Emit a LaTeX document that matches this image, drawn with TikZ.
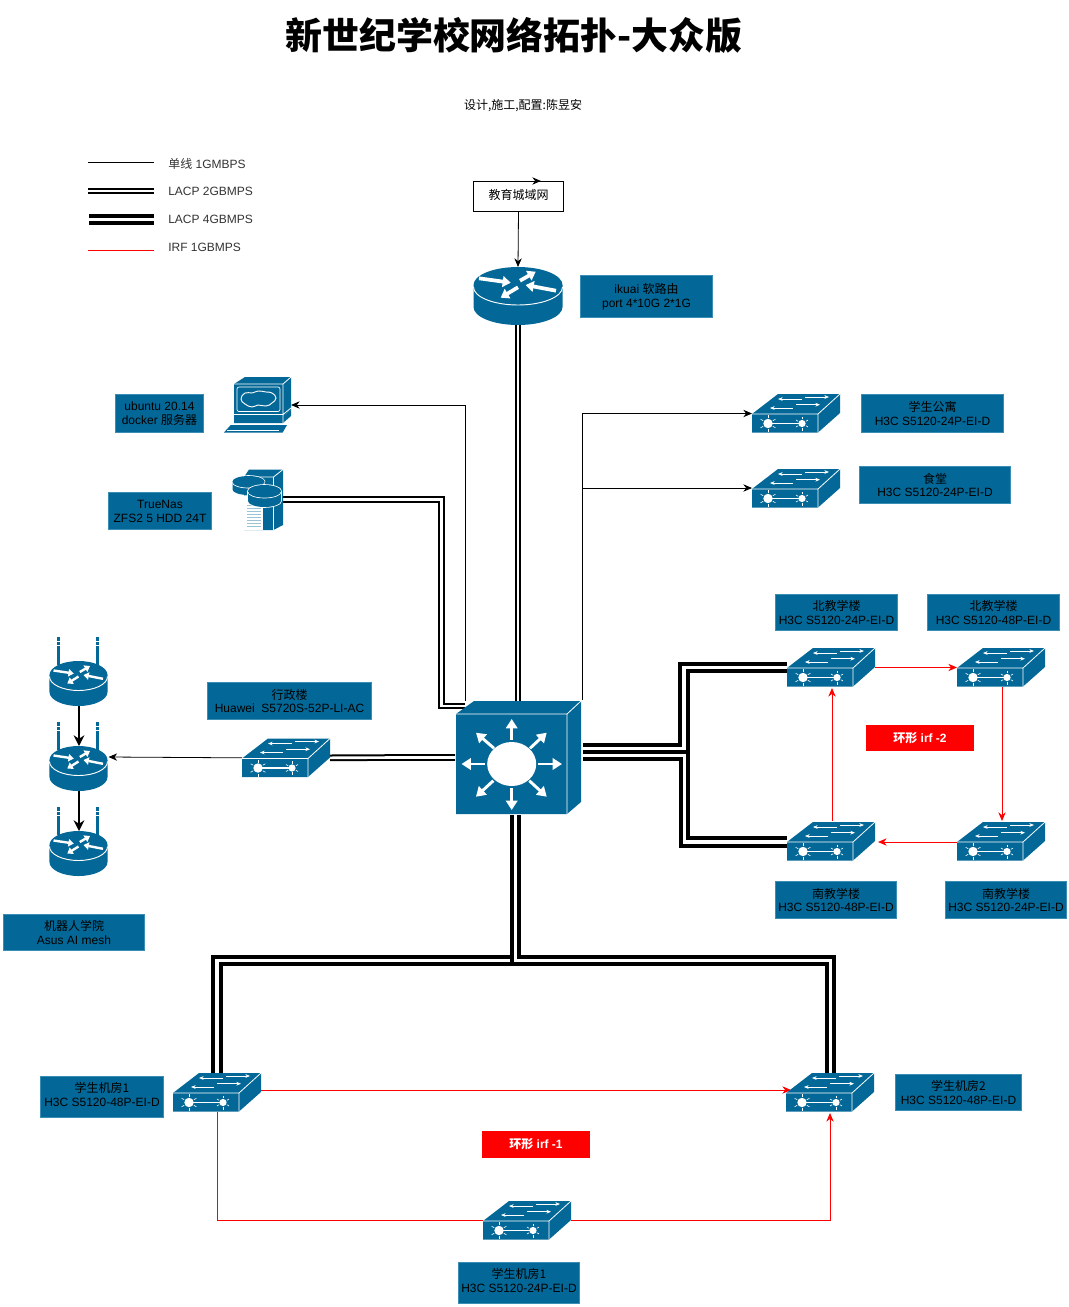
\documentclass[tikz,border=0pt]{standalone}
\usepackage{fontspec}
\setmainfont{Liberation Sans}
\newfontfamily\cj{Noto Sans CJK SC}
\usetikzlibrary{arrows.meta}
\definecolor{tblue}{HTML}{036897}
\definecolor{tedge}{HTML}{3A8DB5}
\definecolor{tred}{HTML}{FF0000}
\tikzset{
  hit/.style={inner sep=0pt,outer sep=0pt,anchor=north west},
  lbl/.style={fill=tblue,draw=tedge,line width=.5pt,text=black,align=center,inner sep=0pt,font=\fontsize{9}{10.4}\selectfont},
  redlbl/.style={fill=tred,draw=tred,line width=.5pt,text=white,align=center,inner sep=0pt,font=\fontsize{9}{10}\selectfont\bfseries},
  plainlbl/.style={align=left,anchor=west,inner sep=0pt,text=black!80,font=\fontsize{9}{10}\selectfont},
  thin1/.style={black,line width=.6pt},
  lacpa/.style={black,line width=1.5pt,double=white,double distance=2pt},
  lacpb/.style={black,line width=3pt,double=white,double distance=2.3pt},
  irf/.style={tred,line width=.6pt},
  tip/.style={-{Stealth[length=6.5pt,width=5.5pt]}},
  body/.style={fill=tblue,draw=none},
  wl/.style={white,line width=.6pt},
  sa/.style={white,line width=.55pt,-{Stealth[length=3.5pt,width=2.8pt]}},
  ra/.style={white,line width=2.8pt,-{Triangle[length=6pt,width=8pt]}},
  ca/.style={white,line width=2.2pt,-{Triangle[length=7pt,width=8.5pt]}},
}
\newcommand\lab[7][lbl]{\pgfmathsetmacro\cxx{(#3+#5)/2}\pgfmathsetmacro\cyy{(#4+#6)/2}\pgfmathsetmacro\wdd{(#5-#3-.7)*.75}\pgfmathsetmacro\htt{(#6-#4-.7)*.75}\node[#1,minimum width=\wdd pt,minimum height=\htt pt] (#2) at (\cxx,\cyy) {#7};}
\newcommand\swnode[3]{\node[hit,minimum width=66pt,minimum height=29pt] (#1) at (#2,#3) {};}
\newcommand\swicon[2]{\begin{scope}[shift={(#1,#2)}]
 \fill[body] (0,20)--(26,0)--(88,0)--(88,19)--(66,38.5)--(0,38.5)--cycle;
 \draw[wl] (0,20)--(66,20)--(88,0) (66,20)--(66,38.5);
 \draw[sa] (50,5)--(26,5); \draw[sa] (53,3)--(77,3);
 \draw[sa] (41,14)--(18,14); \draw[sa] (44,10.7)--(68,10.7);
 \fill[white] (16,29.5) circle[radius=4.7];
 \fill[white] (50,29.5) circle[radius=3.6];
 \draw[white,line width=.9pt] (16,29.5)--(50,29.5);
 \foreach \a in {30,90,150,210,270,330}{
   \draw[white,line width=.45pt] (16,29.5)+(\a:5.5)--+(\a:8.5);
   \draw[white,line width=.45pt] (50,29.5)+(\a:4.4)--+(\a:7);}
\end{scope}}
\newcommand\rtrbody{%
 \fill[body] (-44.5,18)--(-44.5,40) arc[start angle=180,end angle=0,x radius=44.5,y radius=18]--(44.5,18) arc[start angle=0,end angle=-180,x radius=44.5,y radius=18]--cycle;
 \draw[white,line width=.7pt] (-44.5,20) arc[start angle=180,end angle=0,x radius=44.5,y radius=18];
}
\begin{document}
\begin{tikzpicture}[x=.75pt,y=-.75pt]
\useasboundingbox (0,0) rectangle (1069,1307);
% texts
\node[inner sep=0pt,font=\fontsize{27.7}{30}\selectfont] (title) at (514,35.5) {\cj\bfseries 新世纪学校网络拓扑-大众版};
\node[inner sep=0pt,font=\fontsize{9}{10}\selectfont] (sub) at (523,105.5) {\cj 设计,施工,配置:陈昱安};
% legend
\coordinate (l1a) at (88,162.5); \coordinate (l1b) at (154,162.5);
\coordinate (l2a) at (88,191); \coordinate (l2b) at (154,191);
\coordinate (l3a) at (89,219.5); \coordinate (l3b) at (154,219.5);
\coordinate (l4a) at (88,250); \coordinate (l4b) at (154,250);
\draw[thin1] (l1a)--(l1b);
\draw[lacpa] (l2a)--(l2b);
\draw[lacpb] (l3a)--(l3b);
\draw[irf] (l4a)--(l4b);
\node[plainlbl] (t1) at (168,163.5) {{\cj 单线} 1GMBPS};
\node[plainlbl] (t2) at (168,191.5) {LACP 2GBMPS};
\node[plainlbl] (t3) at (168,219.5) {LACP 4GBMPS};
\node[plainlbl] (t4) at (168,247.5) {IRF 1GBMPS};
% labels
\node[draw=black,line width=.75pt,fill=white,minimum width=68pt,minimum height=22.5pt,inner sep=0pt,font=\fontsize{9}{10}\selectfont] (wan) at (518.5,196) {\raisebox{2pt}{\cj 教育城域网}};
\lab{Lnet}{580}{275}{713}{318}{ikuai {\cj 软路由}\\port 4*10G 2*1G}
\lab{Lsrv}{115}{394}{204}{433}{ubuntu 20.14\\docker {\cj 服务器}}
\lab{Lnas}{108}{492}{212}{530}{TrueNas\\ZFS2 5 HDD 24T}
\lab{Ldorm}{861}{394}{1004}{433}{{\cj 学生公寓}\\H3C S5120-24P-EI-D}
\lab{Lcant}{859}{466}{1011}{504}{{\cj 食堂}\\H3C S5120-24P-EI-D}
\lab{Lna}{775}{594}{898}{631}{{\cj 北教学楼}\\H3C S5120-24P-EI-D}
\lab{Lnb}{927}{594}{1060}{631}{{\cj 北教学楼}\\H3C S5120-48P-EI-D}
\lab{Lsa}{775}{881}{897}{919}{{\cj 南教学楼}\\H3C S5120-48P-EI-D}
\lab{Lsb}{945}{881}{1067}{919}{{\cj 南教学楼}\\H3C S5120-24P-EI-D}
\lab{Loff}{207}{682}{372}{720}{{\cj 行政楼}\\Huawei\ \ S5720S-52P-LI-AC}
\lab{Lrob}{3}{914}{145}{951}{{\cj 机器人学院}\\Asus AI mesh}
\lab[lbl,text depth=4.5pt]{Lla}{40}{1076}{164}{1118}{{\cj 学生机房1}\\H3C S5120-48P-EI-D}
\lab{Llb}{895}{1074}{1022}{1111}{{\cj 学生机房2}\\H3C S5120-48P-EI-D}
\lab[lbl,text depth=4.5pt]{Llc}{458}{1262}{580}{1304}{{\cj 学生机房1}\\H3C S5120-24P-EI-D}
\lab[redlbl]{Ri2}{866}{725}{974}{751}{{\cj\bfseries 环形} irf -2}
\lab[redlbl]{Ri1}{482}{1131}{590}{1158}{{\cj\bfseries 环形} irf -1}
% anchor nodes of the devices
\node[hit,minimum width=66.75pt,minimum height=43.5pt] (net) at (473.5,267) {};
\node[hit,minimum width=94.5pt,minimum height=84.75pt] (core) at (455,701) {};
\node[hit,minimum width=50.25pt,minimum height=42pt] (srv) at (224,377) {};
\node[hit,minimum width=37.5pt,minimum height=45.75pt] (nas) at (233,469) {};
\swnode{dorm}{752}{394}
\swnode{cant}{752}{469}
\swnode{na}{787}{648}
\swnode{nb}{957}{648}
\swnode{sa}{787}{822}
\swnode{sb}{957}{822}
\swnode{off}{242}{738.5}
\swnode{la}{173}{1073}
\swnode{lb}{786}{1073}
\swnode{lc}{483}{1201}
\node[hit,minimum width=44.25pt,minimum height=34pt] (ra) at (49.5,661) {};
\node[hit,minimum width=44.25pt,minimum height=34pt] (rb) at (49.5,746) {};
\node[hit,minimum width=44.25pt,minimum height=34pt] (rc) at (49.5,831) {};
% connectors
\draw[black,line width=.75pt,tip] (518.5,181)--(541,181);
\draw[thin1,tip] (wan.south)--(net.north);
\draw[lacpa] (net.south)--(core.north);
\draw[thin1,tip] (core.north -| 465,0)--(465,405)--(srv.east |- 0,405);
\draw[lacpa] (nas.east |- 0,499.5)--(441.5,499.5)--(441.5,706)--(465,706);
\draw[thin1,tip] (582,700)--(582,413.5)--(dorm.west |- 0,413.5);
\draw[thin1,tip] (582,488)--(cant.west |- 0,488);
\draw[lacpa] (off.east)--(400,757.5)--(core.west);
\draw[thin1,tip] (off.west)--(rb.east |- 0,757);
\draw[black,line width=1.5pt,-{Stealth[length=8pt,width=8pt]}] (ra.south)--(rb.north);
\draw[black,line width=1.5pt,-{Stealth[length=8pt,width=8pt]}] (rb.south)--(rc.north);
\draw[lacpb] (583,748.5)--(684,748.5)--(684,667.5)--(na.west |- 0,667.5);
\draw[lacpb] (583,755.5)--(684.5,755.5)--(684.5,842)--(sa.west |- 0,842);
\draw[lacpb] (515.5,815)--(515.5,960.5)--(217,960.5)--(217,1073);
\draw[lacpb] (515.5,815)--(515.5,960.5)--(830.5,960.5)--(830.5,1073);
\draw[irf,tip] (na.east |- 0,667.5)--(nb.west |- 0,667.5);
\draw[irf,tip] (1002,687)--(1002,821);
\draw[irf,tip] (sb.west |- 0,842)--(878,842);
\draw[irf,tip] (832,821)--(832,688);
\draw[irf,tip] (la.east |- 0,1090)--(791,1090);
\draw[irf] (217.5,1112)--(217.5,1220)--(lc.west |- 0,1220);
\draw[irf,tip] (lc.east |- 0,1220)--(830,1220)--(830,1113);
% big router
\begin{scope}[shift={(518,267)}]
 \rtrbody
 \begin{scope}[shift={(0,18)}]
 \draw[ra] (-39,-6.7)--(-7.3,-2.3);
 \draw[ra] (2,-4.3)--(17.7,-13.3);
 \draw[ra] (38,5.7)--(7.7,0);
 \draw[ra] (0,2.3)--(-17.3,12.7);
 \end{scope}
\end{scope}
% small routers
\foreach \ya in {661,746,831}{
 \begin{scope}[shift={(78.5,\ya)},ra/.style={white,line width=1.8pt,-{Triangle[length=4pt,width=5.5pt]}}]
 \fill[body] (-21.5,-24.5) rectangle (-18.5,4);
 \fill[body] (17,-24.5) rectangle (20,4);
 \foreach \xa in {-20,18.5}{
  \fill[white] (\xa-1.5,-20) rectangle (\xa+1.5,-19.3);
  \fill[white] (\xa-1.5,-16) rectangle (\xa+1.5,-15.3);}
 \begin{scope}[xscale=.652,yscale=.776]
 \rtrbody
 \end{scope}
 \begin{scope}[shift={(0,14)}]
 \draw[ra] (-25,-4.5)--(-4.7,-1.5);
 \draw[ra] (1.3,-3)--(11.5,-9);
 \draw[ra] (24.5,3.8)--(5,0);
 \draw[ra] (0,1.5)--(-11.2,8.5);
 \end{scope}
 \end{scope}}
% switches
\swicon{752}{394}
\swicon{752}{469}
\swicon{787}{648}
\swicon{957}{648}
\swicon{787}{822}
\swicon{957}{822}
\swicon{242}{738.5}
\swicon{173}{1073}
\swicon{786}{1073}
\swicon{483}{1201}
% core switch
\fill[body] (456,714)--(474,701)--(581,701)--(581,802)--(567,814)--(456,814)--cycle;
\draw[wl] (456,714)--(567,714)--(581,701) (567,714)--(567,814);
\fill[white] (511.7,764) ellipse[x radius=24.5,y radius=22];
\draw[ca] (511.7,740)--(511.7,719);
\draw[ca] (511.7,788)--(511.7,810);
\draw[ca] (485,764)--(461.5,764);
\draw[ca] (538,764)--(562,764);
\draw[ca] (530,748.3)--(546.7,732.7);
\draw[ca] (494,748.3)--(476,732.7);
\draw[ca] (493.3,780.7)--(476,796.7);
\draw[ca] (529.3,780.7)--(546.7,796.7);
% computer
\fill[body] (234,384)--(245,377)--(291,377)--(291,410)--(283,416)--(283,423)--(234,423)--cycle;
\fill[body] (283,416)--(291,410)--(291,416)--(283,423)--cycle;
\draw[wl] (234,384)--(283,384)--(291,377) (283,384)--(283,423) (234,414.5)--(283,414.5)--(291,408);
\draw[white,line width=.5pt,rounded corners=1.5pt] (237,387) rectangle (280,411.5);
\draw[white,line width=.7pt] plot[smooth cycle,tension=.8] coordinates {(241,399)(245,393)(252,393)(258,391)(266,392)(272,393)(276,398)(272,403)(266,406)(258,405)(252,407)(245,404)};
\fill[body] (224,432.5)--(230.7,425)--(287,425)--(282.7,432.5)--cycle;
\draw[white,line width=.4pt] (227,430.5)--(279,430.5);
% storage
\fill[body] (244,477)--(249,469.5)--(283,469.5)--(283,525)--(273.5,530)--(244,530)--cycle;
\draw[wl] (244,477)--(273.5,477)--(283,469.5) (273.5,477)--(273.5,530);
\fill[white] (244,496) rectangle (263,530);
\foreach \yb in {505,508,511,514,517,520,523,526}{\draw[tblue!40,line width=.35pt] (247,\yb)--(261,\yb);}
\foreach \cx/\cy/\rx/\ry/\h in {248.5/481.5/16/5.5/8,264.5/491/16.5/6/10}{
 \fill[white] (\cx-\rx-.8,\cy) rectangle (\cx+\rx+.8,\cy+\h);
 \fill[white] (\cx,\cy+\h) ellipse[x radius=\rx+.8,y radius=\ry+.8];
 \fill[white] (\cx,\cy) ellipse[x radius=\rx+.8,y radius=\ry+.8];
 \fill[body] (\cx-\rx,\cy)--(\cx-\rx,\cy+\h) arc[start angle=180,end angle=0,x radius=\rx,y radius=\ry]--(\cx+\rx,\cy)--cycle;
 \draw[white,line width=.5pt] (\cx-\rx,\cy+1) arc[start angle=180,end angle=0,x radius=\rx,y radius=\ry];
 \fill[body] (\cx,\cy) ellipse[x radius=\rx,y radius=\ry];
}
\end{tikzpicture}
\end{document}
